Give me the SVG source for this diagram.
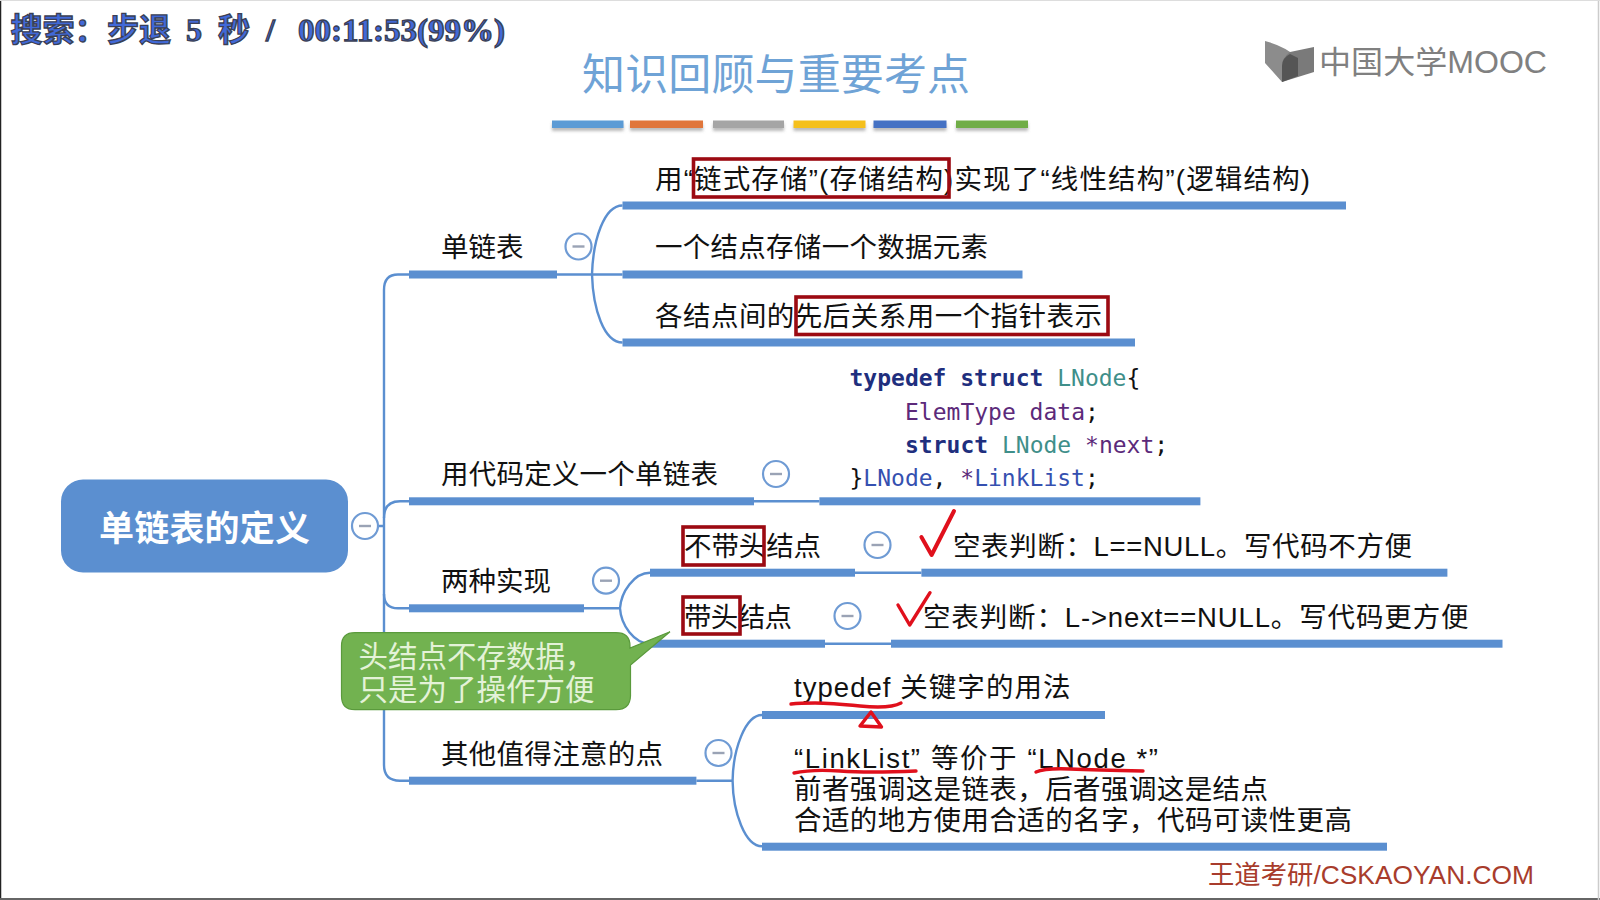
<svg xmlns="http://www.w3.org/2000/svg" width="1600" height="900" viewBox="0 0 1600 900">
<defs>
<style>
text{font-family:"Liberation Sans","Noto Sans CJK SC",sans-serif;fill:#111}
.l{font-size:27.5px}
.bar{fill:#5b8fd0}
.thin{fill:none;stroke:#5b8fd0;stroke-width:2.4}
.c{fill:#fff;stroke:#6f9bd4;stroke-width:2.2}
.m{stroke:#9aa3b5;stroke-width:2.4}
.box{fill:none;stroke:#9c0a12;stroke-width:3.6}
.ink{fill:none;stroke:#e0101c;stroke-width:3.4;stroke-linecap:round;stroke-linejoin:round}
.code{font-family:"DejaVu Sans Mono","Liberation Mono",monospace;font-size:23px}
.kw{fill:#1f2f7e;font-weight:700}
.ty{fill:#3f8f8a}
.pu{fill:#5c2a7a}
.bl{fill:#3550b0}
.tb{filter:url(#sh)}
</style>
<filter id="sh" x="-5%" y="-50%" width="110%" height="250%"><feDropShadow dx="0" dy="3" stdDeviation="1.5" flood-color="#777" flood-opacity=".5"/></filter>
</defs>
<rect width="1600" height="900" fill="#fff"/>
<path d="M0.5 0V900" stroke="#222" stroke-width="1.5"/>
<path d="M0 899H1600" stroke="#666" stroke-width="2"/>
<path d="M1598.5 0V900" stroke="#ccc" stroke-width="1.5"/>
<path d="M0 .5H1600" stroke="#ddd"/>

<g id="search-overlay"><text y="41" font-size="32" font-weight="700" style="fill:#4169d8;stroke:#3a3f55;stroke-width:1.3px;font-family:'Liberation Serif','Noto Sans CJK SC',serif"><tspan x="10.500">搜索：</tspan><tspan x="107">步退 </tspan><tspan x="186">5 </tspan><tspan x="218">秒 </tspan><tspan x="266">/ </tspan><tspan x="298" textLength="207" lengthAdjust="spacingAndGlyphs">00:11:53(99%)</tspan></text></g>

<g id="title"><text x="582" y="90" font-size="43" style="fill:#6fa3d6;font-family:'Noto Sans CJK SC',sans-serif" textLength="388">知识回顾与重要考点</text>
<g class="tb"><rect x="552" y="120.500" width="71.500" height="7.500" fill="#5b9bd5"/><rect x="630" y="120.500" width="73" height="7.500" fill="#e0763a"/><rect x="713" y="120.500" width="71" height="7.500" fill="#a5a5a5"/><rect x="793.500" y="120.500" width="72" height="7.500" fill="#f5c01a"/><rect x="873.500" y="120.500" width="73" height="7.500" fill="#4472c4"/><rect x="956" y="120.500" width="72" height="7.500" fill="#70ad47"/></g></g>

<g id="logo"><path d="M1265 41Q1285 46 1298 58L1297 62L1282 68V82L1265 63Z" fill="#8c8c8c"/><path d="M1290 52L1314 47V72L1282 82V66Q1282 58 1290 52Z" fill="#7a7a7a"/><path d="M1282 66Q1282 58 1290 54L1298 58V76L1282 82Z" fill="#555"/>
<text x="1319" y="73" font-size="31" style="fill:#808080" textLength="228" lengthAdjust="spacingAndGlyphs">中国大学MOOC</text></g>

<g id="connectors">
<path class="thin" d="M409 274.500H398Q384 274.500 384 290V765Q384 780.700 400 780.700H409"/>
<path class="thin" d="M384 518Q384 501.300 400 501.300H409M384 594Q384 608.300 398 608.300H409M378 526H384"/>
<path class="thin" d="M557 274.500H622.500M592 274.500C593 240 604 205.500 622.500 205.500M592 274.500C593 309 604 342.500 622.500 342.500"/>
<path class="thin" d="M754 501.300H819.400"/>
<path class="thin" d="M584 608.300H620M620 608.300C621 592 634 572.700 650 572.700M620 608.300C621 625 634 643.700 650 643.700M855 572.700H921.400M825 643.700H891"/>
<path class="thin" d="M696.400 780.700H732.600M732.600 780.700C733 750 745 715 762 715M732.600 780.700C733 812 745 846.300 762 846.300"/>
</g>

<g id="root"><rect x="61" y="479.500" width="287" height="93" rx="22" fill="#5b8fd0"/><text x="204.500" y="541" text-anchor="middle" font-size="35" font-weight="700" style="fill:#fff" textLength="211">单链表的定义</text><circle class="c" cx="365" cy="526" r="13"/><path class="m" d="M359 526H371"/></g>

<g id="n-danlianbiao"><rect class="bar" x="409" y="270.500" width="148" height="8"/><text class="l" x="441" y="256.500">单链表</text><circle class="c" cx="578.500" cy="246.500" r="13"/><path class="m" d="M572.500 246.500H584.500"/></g>
<g id="n-l1"><rect class="bar" x="622.500" y="201.500" width="723.500" height="8"/><text class="l" x="655" y="189" textLength="655">用“链式存储”(存储结构)实现了“线性结构”(逻辑结构)</text><rect class="box" x="693.500" y="159" width="255.500" height="38"/></g>
<g id="n-l2"><rect class="bar" x="622.500" y="270.500" width="400" height="8"/><text class="l" x="655" y="257" textLength="333">一个结点存储一个数据元素</text></g>
<g id="n-l3"><rect class="bar" x="622.500" y="338.500" width="512.500" height="8"/><text class="l" x="655" y="325.500" textLength="447">各结点间的先后关系用一个指针表示</text><rect class="box" x="796" y="297" width="312" height="37.500"/></g>

<g id="n-code"><rect class="bar" x="409" y="497.300" width="345" height="8"/><text class="l" x="441" y="484" textLength="277">用代码定义一个单链表</text><circle class="c" cx="776" cy="474" r="13"/><path class="m" d="M770 474H782"/>
<rect class="bar" x="819.400" y="497.300" width="381" height="8"/>
<text class="code" x="849.500" y="386"><tspan class="kw">typedef struct</tspan><tspan class="ty"> LNode</tspan>{</text>
<text class="code" x="905" y="419.500"><tspan class="pu">ElemType data</tspan>;</text>
<text class="code" x="905" y="453"><tspan class="kw">struct</tspan><tspan class="ty"> LNode</tspan><tspan class="pu"> *next</tspan>;</text>
<text class="code" x="849.500" y="486">}<tspan class="bl">LNode</tspan>, <tspan class="pu">*</tspan><tspan class="bl">LinkList</tspan>;</text></g>

<g id="n-two"><rect class="bar" x="409" y="604.300" width="175" height="8"/><text class="l" x="441" y="591" textLength="110">两种实现</text><circle class="c" cx="606" cy="580.700" r="13"/><path class="m" d="M600 580.700H612"/></g>
<g id="n-nohead"><rect class="bar" x="650" y="568.700" width="205" height="8"/><text class="l" x="684" y="556" textLength="137">不带头结点</text><rect class="box" x="683" y="527" width="81" height="38"/><circle class="c" cx="877.500" cy="545" r="13"/><path class="m" d="M871.500 545H883.500"/>
<rect class="bar" x="921.400" y="568.700" width="526" height="8"/><text class="l" x="953" y="556" textLength="459">空表判断：L==NULL。写代码不方便</text></g>
<g id="n-head"><rect class="bar" x="650" y="639.700" width="175" height="8"/><text class="l" x="684" y="626.500" textLength="108">带头结点</text><rect class="box" x="683" y="597" width="57" height="37"/><circle class="c" cx="847.500" cy="616" r="13"/><path class="m" d="M841.500 616H853.500"/>
<rect class="bar" x="891" y="639.700" width="611.500" height="8"/><text class="l" x="923" y="626.500" textLength="545.500">空表判断：L-&gt;next==NULL。写代码更方便</text></g>

<g id="n-other"><rect class="bar" x="409" y="776.700" width="287.400" height="8"/><text class="l" x="441" y="763.500" textLength="222">其他值得注意的点</text><circle class="c" cx="718.500" cy="753" r="13"/><path class="m" d="M712.500 753H724.500"/></g>
<g id="n-typedef"><rect class="bar" x="762" y="711" width="343" height="8"/><text class="l" x="794" y="697" textLength="276.500">typedef 关键字的用法</text></g>
<g id="n-linklist"><rect class="bar" x="762" y="842.700" width="625" height="8"/>
<text class="l" x="794" y="768" textLength="364">“LinkList” 等价于 “LNode *”</text>
<text class="l" x="794" y="799" textLength="474">前者强调这是链表，后者强调这是结点</text>
<text class="l" x="794" y="830" textLength="558">合适的地方使用合适的名字，代码可读性更高</text></g>

<g id="callout"><path d="M355 632.700H616Q630 632.700 630 646V648L670 631.700L630.500 665V696Q630 709.700 616 709.700H355Q341.500 709.700 341.500 696V646Q341.500 632.700 355 632.700Z" fill="#72b250" stroke="#5a9a3c" stroke-width="1.200"/>
<text x="358.500" y="667" font-size="29.500" style="fill:#e4f2d8">头结点不存数据，</text><text x="358.500" y="700" font-size="29.500" style="fill:#e4f2d8">只是为了操作方便</text></g>

<g id="ink">
<path class="ink" d="M921.400 537L931.600 555L954 511" style="stroke-width:4"/>
<path class="ink" d="M898 605L909.700 625L930 592.700"/>
<path class="ink" d="M791 704Q800 703 815 703T860 706T901 703"/>
<path class="ink" d="M871 712L860 726L881.500 727Z"/>
<path class="ink" d="M794 773Q812 769 840 771T916 771"/>
<path class="ink" d="M1036 772Q1045 768 1070 769T1143 771"/>
</g>

<g id="footer"><text x="1208" y="884" font-size="26.500" style="fill:#a83c2c" textLength="326" lengthAdjust="spacingAndGlyphs">王道考研/CSKAOYAN.COM</text></g>
</svg>
